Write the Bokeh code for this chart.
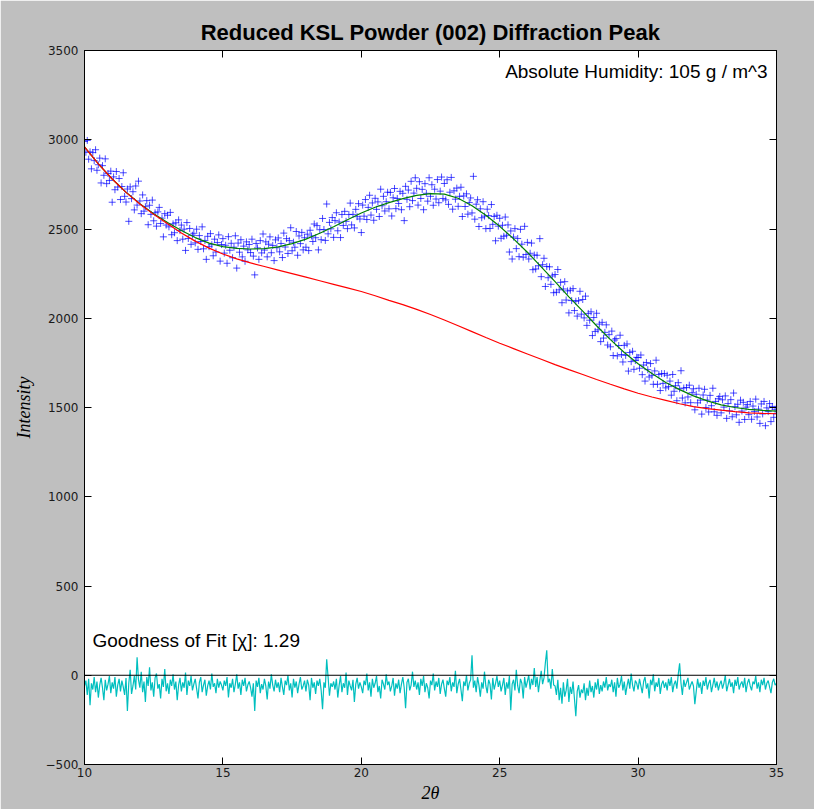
import numpy as np
from bokeh.plotting import figure
from bokeh.models import ColumnDataSource, Label, LinearAxis, FixedTicker, Span, Range1d
from bokeh.embed import file_html
from bokeh.resources import INLINE

# Measured (002) peak intensities, 2θ from 10° to 35° in 0.05° steps
intensity = [
    2990, 2930, 2996, 2891, 2932, 2837, 2928, 2883, 2944, 2829, 2860, 2897, 2758, 2855, 2801, 2893, 2754, 2811, 2772, 2824,
    2650, 2792, 2720, 2822, 2735, 2783, 2665, 2738, 2815, 2683, 2651, 2724, 2543, 2736, 2670, 2709, 2607, 2741, 2634, 2768,
    2657, 2586, 2691, 2600, 2625, 2659, 2524, 2633, 2582, 2662, 2546, 2591, 2516, 2596, 2621, 2531, 2561, 2456, 2586, 2522,
    2577, 2512, 2593, 2468, 2529, 2479, 2535, 2435, 2551, 2491, 2522, 2443, 2499, 2380, 2536, 2447, 2503, 2414, 2465, 2476,
    2422, 2499, 2386, 2463, 2430, 2512, 2389, 2436, 2330, 2459, 2401, 2474, 2412, 2350, 2443, 2371, 2424, 2467, 2320, 2413,
    2446, 2365, 2409, 2308, 2457, 2381, 2420, 2339, 2398, 2462, 2281, 2421, 2370, 2440, 2344, 2404, 2319, 2428, 2383, 2413,
    2368, 2443, 2348, 2243, 2419, 2394, 2330, 2435, 2366, 2472, 2382, 2428, 2344, 2415, 2456, 2367, 2408, 2323, 2439, 2395,
    2450, 2372, 2419, 2340, 2477, 2399, 2446, 2363, 2435, 2507, 2378, 2426, 2398, 2486, 2353, 2461, 2418, 2481, 2383, 2451,
    2398, 2471, 2379, 2493, 2461, 2430, 2528, 2451, 2519, 2383, 2496, 2440, 2559, 2497, 2436, 2640, 2473, 2537, 2501, 2564,
    2453, 2547, 2591, 2490, 2539, 2452, 2581, 2520, 2599, 2543, 2502, 2581, 2645, 2523, 2582, 2506, 2610, 2569, 2642, 2556,
    2480, 2634, 2572, 2665, 2553, 2621, 2689, 2578, 2646, 2549, 2672, 2610, 2652, 2570, 2723, 2630, 2683, 2601, 2653, 2706,
    2613, 2705, 2573, 2675, 2727, 2614, 2671, 2643, 2711, 2608, 2700, 2547, 2739, 2666, 2718, 2625, 2767, 2659, 2701, 2787,
    2728, 2634, 2765, 2671, 2722, 2608, 2754, 2700, 2656, 2787, 2683, 2748, 2633, 2723, 2668, 2777, 2647, 2712, 2791, 2671,
    2755, 2663, 2776, 2638, 2706, 2789, 2611, 2714, 2667, 2729, 2627, 2683, 2734, 2570, 2685, 2626, 2697, 2583, 2648, 2674,
    2590, 2795, 2555, 2639, 2664, 2514, 2613, 2563, 2653, 2572, 2502, 2611, 2575, 2503, 2637, 2526, 2570, 2434, 2577, 2516,
    2560, 2448, 2521, 2459, 2567, 2465, 2523, 2371, 2489, 2332, 2455, 2502, 2390, 2447, 2345, 2498, 2415, 2342, 2515, 2357,
    2425, 2332, 2364, 2421, 2272, 2354, 2276, 2353, 2294, 2446, 2233, 2300, 2336, 2178, 2290, 2227, 2288, 2190, 2237, 2143,
    2245, 2146, 2273, 2159, 2201, 2087, 2164, 2205, 2102, 2153, 2030, 2157, 2099, 2166, 2043, 2095, 2012, 2099, 2151, 2023,
    2105, 2002, 2124, 1960, 2027, 1989, 2036, 1903, 2004, 1926, 2028, 1935, 1967, 1869, 1977, 1889, 1921, 1963, 1850, 1908,
    1840, 1928, 1791, 1878, 1886, 1789, 1847, 1905, 1797, 1755, 1848, 1792, 1856, 1704, 1808, 1757, 1815, 1714, 1763, 1781,
    1780, 1720, 1794, 1684, 1738, 1648, 1752, 1712, 1671, 1746, 1680, 1630, 1705, 1765, 1630, 1685, 1595, 1690, 1635, 1690,
    1610, 1681, 1617, 1648, 1569, 1685, 1591, 1622, 1538, 1639, 1605, 1706, 1553, 1609, 1526, 1612, 1559, 1625, 1527, 1583,
    1605, 1487, 1574, 1526, 1608, 1541, 1463, 1570, 1602, 1500, 1542, 1475, 1568, 1510, 1608, 1476, 1534, 1456, 1549, 1562,
    1470, 1543, 1502, 1565, 1439, 1522, 1481, 1544, 1448, 1581, 1505, 1459, 1518, 1417, 1541, 1480, 1529, 1433, 1502, 1516,
    1460, 1534, 1434, 1508, 1478, 1547, 1447, 1491, 1411, 1520, 1464, 1534, 1398, 1498, 1477, 1522, 1421, 1506, 1445, 1490, 1465,
]

# Fit residuals on the same 2θ grid
residual = [
    -60, -30, -110, -20, -168, -45, -80, -10, -95, -35, -125, -55, -15, -70, -140, -25, -85, -50, -5, -100,
    -40, -75, -10, -120, -55, -20, -90, -30, -65, -110, -15, -200, -45, 30, -105, -60, -5, -80, 101, -25,
    -70, 20, -95, -35, -150, -10, -60, 45, -85, -40, -120, -15, 10, -75, -50, -130, -20, -65, 35, -90,
    -45, -105, -25, -60, 5, -80, -35, -140, -55, -15, -90, -40, -70, 15, -110, -30, -60, -5, -85, -50,
    -20, -75, -130, -40, -10, -95, -55, -25, -115, -60, -30, -80, 10, -65, -45, -100, -20, -70, -35, -55,
    -85, -30, -60, -10, -125, -45, -70, -20, -95, -50, 5, -75, -40, -110, -25, -60, -15, -90, -55, -35,
    -70, -120, -45, -200, -30, -65, -15, -100, -50, -80, -20, -60, -135, -35, -75, 5, -55, -90, -25, -70,
    -40, -95, -15, -65, -110, -30, -55, 0, -85, -45, -125, -20, -70, -35, -100, -50, -10, -80, -60, -30,
    -90, -25, -55, -140, -15, -70, -40, -105, -30, -60, -20, -85, -190, -40, -70, 90, -10, -115, -45, -65,
    -35, -80, -20, -125, -55, -5, -95, -45, -70, 15, -110, -30, -60, -85, -25, -150, -50, -15, -75, -40,
    -65, -100, -30, -55, 10, -85, -40, -120, -20, -70, -45, -5, -95, -60, -130, -25, -50, -80, 5, -55,
    -35, -90, -60, -15, -115, -45, -75, -25, -100, -50, -10, -70, -185, -40, -20, -85, -55, 20, -65, -30,
    -80, -40, -110, -20, -60, -5, -95, -45, -70, -130, -30, -55, 10, -85, -35, -65, -15, -105, -50, -25,
    -75, -120, -30, -55, -10, -90, -40, -65, 25, -100, -50, -20, -80, -145, -35, -60, 0, -85, -45, -25,
    112, -70, -30, -95, -10, -55, -120, -40, -75, 20, -60, -100, -25, -50, -135, -15, -80, -45, -5, -65,
    -30, -90, -55, -15, -110, -40, -75, -5, -196, -50, -25, -85, 30, -60, -100, -20, -45, -130, -10, -70,
    -35, 0, -80, -20, -55, 40, -65, -10, -95, -30, 25, -50, -15, 70, 140, -40, -20, -75, 35, -55,
    -60, -110, -25, -140, -70, -160, -40, -120, -85, -20, -150, -65, -105, -35, -130, -230, -90, -55, -125, -80,
    -100, -45, -140, -70, -115, -30, -95, -60, -125, -40, -80, -20, -105, -55, -90, -35, -70, -10, -85, -50,
    -65, -25, -95, -40, -120, -15, -70, -50, -5, -85, -35, -110, -60, -20, -75, 10, -55, -90, -30, -45,
    -80, -20, -60, -100, -35, -10, -75, -45, -130, -25, -55, 5, -90, -40, -65, -15, -105, -50, -30, -70,
    -40, -85, -20, -60, -10, -95, -50, -30, -75, 5, 67, -45, -110, -25, -65, -40, -15, -80, -55, -35,
    -60, -162, -90, -20, -70, -40, -105, -30, -60, -10, -80, -45, -25, -95, -55, -15, -70, -35, -85, -50,
    -30, -75, -45, 0, -90, -55, -20, -65, -40, -100, -25, -60, -10, -80, -50, -35, -70, -15, -95, -45,
    -20, -60, -85, -35, -50, -5, -75, -40, -95, -25, -55, -15, -80, -45, -30, -65, -100, -40, -20, -55, -45,
]

# Fitted background and full model, 2θ from 10° to 35° in 0.5° steps
background = [
    2960, 2865, 2780, 2705, 2640, 2582, 2530, 2478, 2432, 2393, 2360, 2333, 2310, 2290, 2270, 2250, 2230,
    2210, 2190, 2170, 2150, 2126, 2100, 2076, 2050, 2021, 1990, 1958, 1925, 1892, 1860, 1830, 1800, 1770,
    1740, 1712, 1685, 1657, 1630, 1604, 1580, 1559, 1540, 1521, 1505, 1494, 1485, 1477, 1470, 1467, 1465,
]
model_fit = [
    2960, 2865, 2780, 2706, 2642, 2586, 2537, 2492, 2452, 2421, 2401, 2391, 2388, 2390, 2400, 2418, 2443,
    2476, 2513, 2552, 2590, 2622, 2648, 2670, 2688, 2698, 2695, 2672, 2630, 2577, 2515, 2445, 2370, 2288,
    2205, 2120, 2040, 1958, 1880, 1808, 1745, 1690, 1640, 1600, 1565, 1537, 1515, 1500, 1490, 1484, 1480,
]

x_ticks = [10, 15, 20, 25, 30, 35]
y_ticks = [-500, 0, 500, 1000, 1500, 2000, 2500, 3000, 3500]

two_theta = np.linspace(10, 35, len(intensity))
two_theta_res = np.linspace(10, 35, len(residual))
two_theta_fit = np.linspace(10, 35, len(model_fit))

data_src = ColumnDataSource(dict(x=two_theta, y=intensity))
res_src = ColumnDataSource(dict(x=two_theta_res, y=residual))
fit_src = ColumnDataSource(dict(x=two_theta_fit, bg=background, fit=model_fit))

p = figure(
    width=814, height=809,
    x_range=Range1d(10, 35), y_range=Range1d(-500, 3500),
    output_backend="svg", toolbar_location=None,
    min_border_left=84, min_border_right=38, min_border_top=50, min_border_bottom=45,
    background_fill_color="white", border_fill_color="#bfbfbf",
)
p.xgrid.visible = False
p.ygrid.visible = False
p.outline_line_color = "black"
p.outline_line_width = 1

p.title.text = "Reduced KSL Powder (002) Diffraction Peak"
p.title.align = "center"
p.title.text_font = "Liberation Sans"
p.title.text_font_style = "bold"
p.title.text_font_size = "22px"
p.title.text_color = "black"
p.title.standoff = 12


def style_axis(ax, ticks, show_labels=True):
    ax.ticker = FixedTicker(ticks=ticks)
    ax.major_tick_in = 7
    ax.major_tick_out = 0
    ax.minor_tick_line_color = None
    ax.axis_line_color = "black"
    ax.major_tick_line_color = "black"
    ax.major_label_text_font = "DejaVu Sans"
    ax.major_label_text_font_size = "12px"
    ax.major_label_text_color = "#1a1a1a"
    if not show_labels:
        # tick marks only on the mirrored sides
        ax.major_label_text_color = None
        ax.major_label_text_font_size = "1px"
        ax.major_label_standoff = 0


style_axis(p.xaxis[0], x_ticks)
style_axis(p.yaxis[0], y_ticks)
p.xaxis[0].major_label_standoff = 3
p.yaxis[0].major_label_standoff = 6
p.yaxis[0].major_label_overrides = {-500: "\u2212500"}

p.xaxis[0].axis_label = "2θ"
p.yaxis[0].axis_label = "Intensity"
for ax in (p.xaxis[0], p.yaxis[0]):
    ax.axis_label_text_font = "Liberation Serif"
    ax.axis_label_text_font_style = "italic"
    ax.axis_label_text_font_size = "18px"
    ax.axis_label_text_color = "black"
p.xaxis[0].axis_label_standoff = 3
p.yaxis[0].axis_label_standoff = 9

top_axis = LinearAxis()
right_axis = LinearAxis()
style_axis(top_axis, x_ticks, show_labels=False)
style_axis(right_axis, y_ticks, show_labels=False)
p.add_layout(top_axis, "above")
p.add_layout(right_axis, "right")

# measured points, model fit and background
p.scatter("x", "y", source=data_src, marker="cross", size=7, line_color="#0000ff",
          line_width=1, line_alpha=0.7)
p.line("x", "fit", source=fit_src, line_color="#008000", line_width=1.2)
p.line("x", "bg", source=fit_src, line_color="#ff0000", line_width=1.2)

# residuals with zero reference
p.line("x", "y", source=res_src, line_color="#00bfbf", line_width=1.2)
p.add_layout(Span(location=0, dimension="width", line_color="black", line_width=1))

p.add_layout(Label(x=35, y=3322, x_offset=-9, text="Absolute Humidity: 105 g / m^3",
                   text_align="right", text_font="Liberation Sans", text_font_size="19px",
                   text_color="black"))
p.add_layout(Label(x=10, y=134, x_offset=8, text="Goodness of Fit [χ]: 1.29",
                   text_align="left", text_font="Liberation Sans", text_font_size="19px",
                   text_color="black"))

open("out.html", "w").write(file_html(p, INLINE))
